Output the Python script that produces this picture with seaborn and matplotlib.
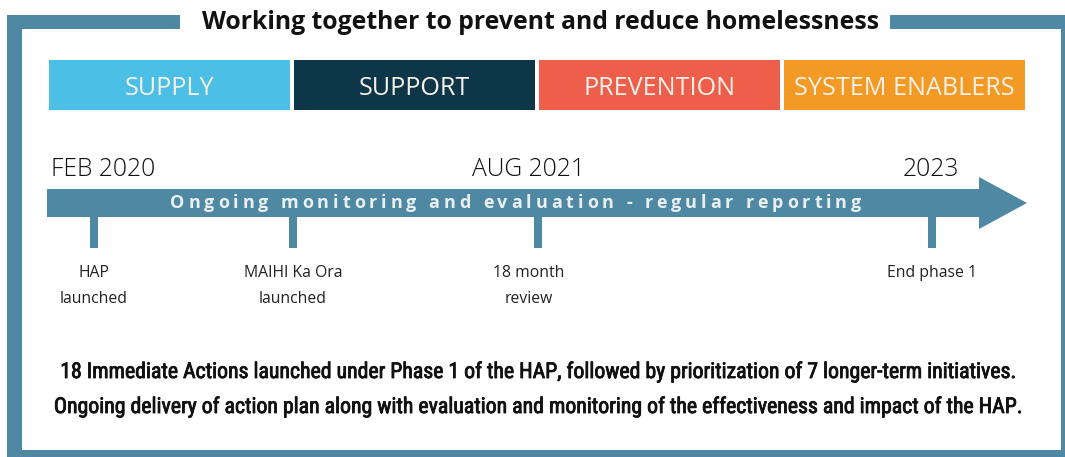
import matplotlib
matplotlib.use("Agg")
import matplotlib.pyplot as plt
import matplotlib.patheffects as pe
import seaborn as sns
import pandas as pd
from matplotlib import font_manager as fm
from matplotlib.font_manager import FontProperties, findfont, get_font
from matplotlib.patches import Rectangle, Polygon

# ---------------- data ----------------
title = "Working together to prevent and reduce homelessness"
categories = ["SUPPLY", "SUPPORT", "PREVENTION", "SYSTEM ENABLERS"]
category_colors = ["#4cbfe6", "#0d3649", "#ee5f4b", "#f39a25"]
date_labels = ["FEB 2020", "AUG 2021", "2023"]
arrow_label = "Ongoing monitoring and evaluation - regular reporting"
milestone_labels = ["HAP\nlaunched", "MAIHI Ka Ora\nlaunched", "18 month\nreview", "End phase 1"]
milestone_pos = [94, 293, 538, 932]          # position along the timeline
footer_lines = [
    "18 Immediate Actions launched under Phase 1 of the HAP, followed by prioritization of 7 longer-term initiatives.",
    "Ongoing delivery of action plan along with evaluation and monitoring of the effectiveness and impact of the HAP.",
]

# ---------------- layout ----------------
W, H, DPI = 1065, 457, 100
FRAME = "#4e88a2"
date_x = [103, 528, 931]
milestone_label_dx = [0, 0, -9, 0]

sns.set_theme(style="white")
avail = {f.name for f in fm.fontManager.ttflist}


def pick(*names):
    for n in names:
        if n in avail:
            return n
    return "DejaVu Sans"


def adv_width(text, fp):
    font = get_font(findfont(fp))
    font.set_size(fp.get_size_in_points(), DPI)
    return sum(font.load_char(ord(c)).linearHoriAdvance / 65536 for c in text)


def fit(text, family, weight, target, base=20):
    fp = FontProperties(family=family, weight=weight, size=base)
    return base * target / adv_width(text, fp)


f_title = pick("Open Sans", "Lato")
f_cat = pick("Open Sans", "Roboto")
f_date = pick("Open Sans", "Lato")
f_lab = pick("Open Sans", "Roboto")
f_foot = pick("Liberation Sans Narrow", "Roboto Condensed", "Open Sans")

fig = plt.figure(figsize=(W / DPI, H / DPI), dpi=DPI, facecolor="white")
ax = fig.add_axes([0, 0, 1, 1])
ax.set_xlim(0, W)
ax.set_ylim(H, 0)
ax.axis("off")

# frame
for (x0, y0, x1, y1) in [(7, 15, 22, H), (7, 15, 180, 29), (890, 15, W, 29),
                         (1061, 15, W, H), (7, 450, W, H)]:
    ax.add_patch(Rectangle((x0, y0), x1 - x0, y1 - y0, color=FRAME, lw=0))

# title
ts = fit(title, f_title, "bold", 677)
ax.text(541, 29, title, family=f_title, weight="bold", size=ts, color="#111111",
        ha="center", va="baseline")

# category band (seaborn bars)
cax = fig.add_axes([47 / W, 1 - 110 / H, 980 / W, 50 / H])
df = pd.DataFrame({"category": categories, "v": [1] * len(categories)})
sns.barplot(data=df, x="category", y="v", hue="category", palette=category_colors,
            width=0.984, saturation=1, legend=False, linewidth=0, ax=cax)
cax.set_xlim(-0.5, len(categories) - 0.5)
cax.set_ylim(0, 1)
cax.axis("off")
cs = fit("SYSTEM ENABLERS", f_cat, "normal", 220)
for i, c in enumerate(categories):
    cax.text(i, 0.3, c, family=f_cat, size=cs, color="#f5f1ea", ha="center",
             va="baseline")

# timeline arrow
shaft_top, shaft_bot, head_top, head_bot = 189, 217, 177, 229
x_start, x_head, x_tip = 47, 979, 1027
ymid = (shaft_top + shaft_bot) / 2
ax.add_patch(Polygon([(x_start, shaft_top), (x_head, shaft_top), (x_head, head_top),
                      (x_tip, ymid), (x_head, head_bot), (x_head, shaft_bot),
                      (x_start, shaft_bot)], closed=True, color=FRAME, lw=0))

# spaced arrow label
asz = 13
fp_arrow = FontProperties(family=f_lab, weight="bold", size=asz)
font = get_font(findfont(fp_arrow))
font.set_size(asz, DPI)
adv = [font.load_char(ord(c)).linearHoriAdvance / 65536 for c in arrow_label]
x0a, x1a = 170, 861
track = ((x1a - x0a) - sum(adv)) / (len(arrow_label) - 1)
x = x0a
for c, a in zip(arrow_label, adv):
    if c != " ":
        ax.text(x + a / 2, 208, c, fontproperties=fp_arrow, color="#e9f0f3",
                ha="center", va="baseline")
    x += a + track

# milestone ticks
ax.vlines(milestone_pos, shaft_bot - 1, 248, color=FRAME, lw=8 * 72 / DPI)

# dates
ds = fit("FEB 2020", f_date, "light", 104)
for lbl, xx in zip(date_labels, date_x):
    ax.text(xx, 176, lbl, family=f_date, weight="light", size=ds, color="#111111",
            ha="center", va="baseline")

# milestone labels
ls = fit("MAIHI Ka Ora launched", f_lab, "normal", 170)
for lbl, xx, dx in zip(milestone_labels, milestone_pos, milestone_label_dx):
    for j, line in enumerate(lbl.split("\n")):
        ax.text(xx + dx, 277 + 26 * j, line, family=f_lab, size=ls, color="#222222",
                ha="center", va="baseline")

# footer
fs = fit(footer_lines[0], f_foot, "normal", 955)
for j, line in enumerate(footer_lines):
    ax.text(537, 378 + 35 * j, line, family=f_foot, weight="normal", size=fs,
            color="#111111", ha="center", va="baseline",
            path_effects=[pe.withStroke(linewidth=0.6, foreground="#111111")])

fig.savefig("out.png", dpi=DPI, facecolor="white")
